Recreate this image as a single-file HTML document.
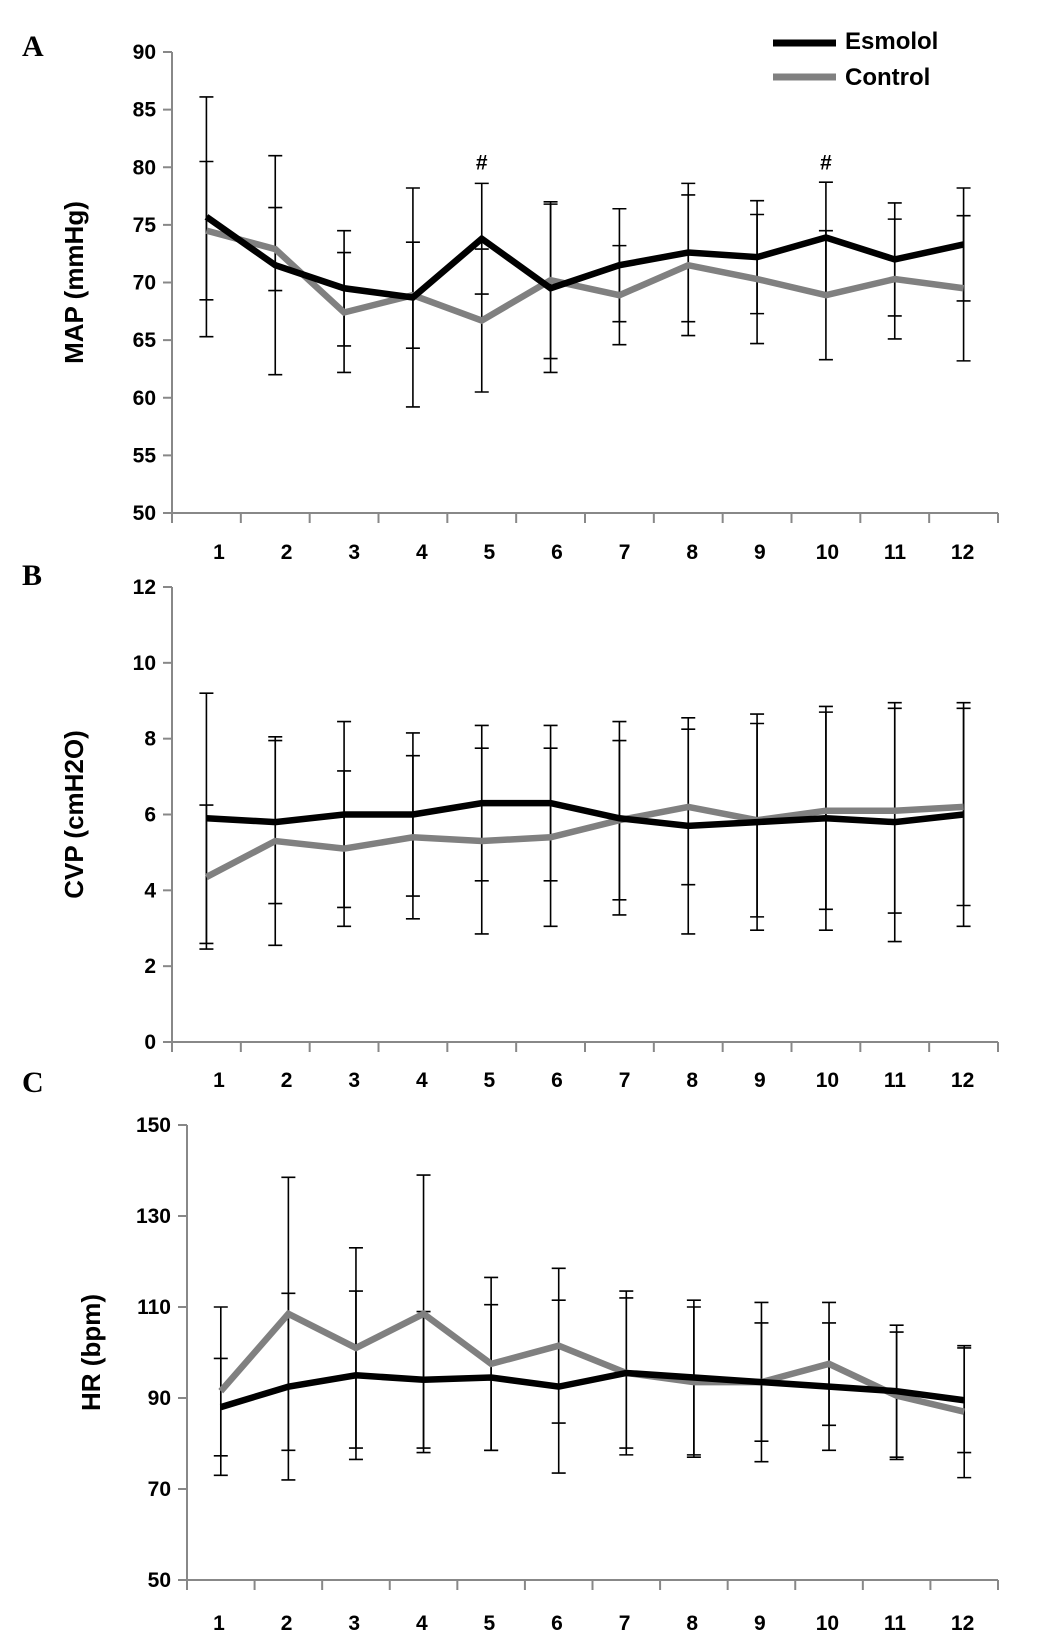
<!DOCTYPE html>
<html><head><meta charset="utf-8"><style>
body{margin:0;background:#fff}
svg{display:block}
text{font-family:"Liberation Sans",Arial,sans-serif;font-weight:bold}
</style></head><body>
<svg id="chart" width="1044" height="1639" xmlns="http://www.w3.org/2000/svg">
<text x="22" y="56" style="font-family:'Liberation Serif',serif" font-size="30">A</text>
<text x="22" y="585" style="font-family:'Liberation Serif',serif" font-size="30">B</text>
<text x="22" y="1092" style="font-family:'Liberation Serif',serif" font-size="30">C</text>
<g>
<line x1="773" y1="43" x2="836" y2="43" stroke="#000" stroke-width="7"/>
<text x="845" y="49" font-size="24">Esmolol</text>
<line x1="773" y1="77" x2="836" y2="77" stroke="#808080" stroke-width="7"/>
<text x="845" y="85" font-size="24">Control</text>
</g>
</svg>
<script>
const categories=[1,2,3,4,5,6,7,8,9,10,11,12];
const mapEsmolol=[75.7,71.5,69.5,68.7,73.8,69.5,71.5,72.6,72.2,73.9,72.0,73.3];
const mapControl=[74.5,72.9,67.4,68.9,66.7,70.2,68.9,71.5,70.3,68.9,70.3,69.5];
const mapEsmololSd=[10.4,9.5,5,9.5,4.8,7.3,4.9,6,4.9,4.8,4.9,4.9];
const mapControlSd=[6,3.6,5.2,4.6,6.2,6.8,4.3,6.1,5.6,5.6,5.2,6.3];
const mapTicks=[50,55,60,65,70,75,80,85,90];
const cvpEsmolol=[5.9,5.8,6.0,6.0,6.3,6.3,5.9,5.7,5.8,5.9,5.8,6.0];
const cvpControl=[4.35,5.3,5.1,5.4,5.3,5.4,5.85,6.2,5.85,6.1,6.1,6.2];
const cvpEsmololSd=[3.3,2.15,2.45,2.15,2.05,2.05,2.55,2.85,2.85,2.95,3.15,2.95];
const cvpControlSd=[1.9,2.75,2.05,2.15,2.45,2.35,2.1,2.05,2.55,2.6,2.7,2.6];
const cvpTicks=[0,2,4,6,8,10,12];
const hrEsmolol=[88,92.5,95,94,94.5,92.5,95.5,94.5,93.5,92.5,91.5,89.5];
const hrControl=[91.5,108.5,101,108.5,97.5,101.5,95.5,93.5,93.5,97.5,90.5,87];
const hrEsmololSd=[10.7,20.5,18.5,15,16,19,18,17,13,14,14.5,11.5];
const hrControlSd=[18.5,30,22,30.5,19,17,16.5,16.5,17.5,13.5,14,14.5];
const hrTicks=[50,70,90,110,130,150];
const sigMarks=[5,10];

const NS="http://www.w3.org/2000/svg";
const svg=document.getElementById('chart');
function mk(tag,attrs,parent){const e=document.createElementNS(NS,tag);for(const k in attrs)e.setAttribute(k,attrs[k]);(parent||svg).appendChild(e);return e;}

function panel(id,cfg){
  const g=mk('g',{});
  
  
  const min=cfg.ticks[0],max=cfg.ticks[cfg.ticks.length-1];
  const y=v=>cfg.yBottom-(v-min)/(max-min)*(cfg.yBottom-cfg.yTop);
  const bw=(cfg.xRight-cfg.xLeft)/categories.length;
  const x=i=>cfg.xLeft+bw*(i+0.5);
  const lx=i=>219+67.6*i;
  const ax=mk('line',{x1:cfg.xLeft,y1:cfg.yTop,x2:cfg.xLeft,y2:cfg.yBottom,stroke:'#888','stroke-width':2},g);
  
  
  const xa=mk('line',{x1:cfg.xLeft,y1:cfg.yBottom,x2:cfg.xRight,y2:cfg.yBottom,stroke:'#888','stroke-width':2},g);
  
  
  cfg.ticks.forEach(t=>{
    mk('line',{x1:cfg.xLeft-9,y1:y(t),x2:cfg.xLeft,y2:y(t),stroke:'#888','stroke-width':2},g);
    const tl=mk('text',{x:cfg.xLeft-16,y:y(t)+7,'text-anchor':'end','font-size':21},g);
    
    
    tl.textContent=t;
  });
  for(let i=0;i<=categories.length;i++){
    mk('line',{x1:cfg.xLeft+bw*i,y1:cfg.yBottom,x2:cfg.xLeft+bw*i,y2:cfg.yBottom+10,stroke:'#888','stroke-width':2},g);
  }
  categories.forEach((c,i)=>{
    const tl=mk('text',{x:lx(i),y:cfg.labelY,'text-anchor':'middle','font-size':21},g);
    
    
    tl.textContent=c;
  });
  const tt=mk('text',{x:0,y:0,'text-anchor':'middle','font-size':26,transform:`translate(${cfg.titleX},${(cfg.yTop+cfg.yBottom)/2}) rotate(-90)`},g);
  
  
  tt.textContent=cfg.title;
  const series=[[cfg.ctl,cfg.ctlSd,'#808080','control'],[cfg.esm,cfg.esmSd,'#000','esmolol']];
  series.forEach(([vals,sd,col,name])=>{
    vals.forEach((v,i)=>{
      const eb=mk('path',{d:`M${x(i)},${y(v+sd[i])}V${y(v-sd[i])}M${x(i)-7},${y(v+sd[i])}H${x(i)+7}M${x(i)-7},${y(v-sd[i])}H${x(i)+7}`,stroke:'#000','stroke-width':1.6,fill:'none'},g);
      
      
    });
  });
  series.forEach(([vals,sd,col,name])=>{
    const ln=mk('polyline',{points:vals.map((v,i)=>x(i)+','+y(v)).join(' '),stroke:col,'stroke-width':6.5,fill:'none','stroke-linejoin':'miter'},g);
    
    
  });
  if(cfg.sig){
    cfg.sig.forEach(c=>{
      const i=categories.indexOf(c);
      const h=mk('text',{x:x(i),y:y(80)+2,'text-anchor':'middle','font-size':21},g);
      
      
      h.textContent='#';
    });
  }
}
panel('map',{xLeft:172,xRight:998,yTop:52,yBottom:513,ticks:mapTicks,labelY:559,titleX:83,title:'MAP (mmHg)',esm:mapEsmolol,ctl:mapControl,esmSd:mapEsmololSd,ctlSd:mapControlSd,sig:sigMarks});
panel('cvp',{xLeft:172,xRight:998,yTop:587,yBottom:1042,ticks:cvpTicks,labelY:1087,titleX:83,title:'CVP (cmH2O)',esm:cvpEsmolol,ctl:cvpControl,esmSd:cvpEsmololSd,ctlSd:cvpControlSd});
panel('hr',{xLeft:187,xRight:998,yTop:1125,yBottom:1580,ticks:hrTicks,labelY:1630,titleX:100,title:'HR (bpm)',esm:hrEsmolol,ctl:hrControl,esmSd:hrEsmololSd,ctlSd:hrControlSd});
</script>
</body></html>
